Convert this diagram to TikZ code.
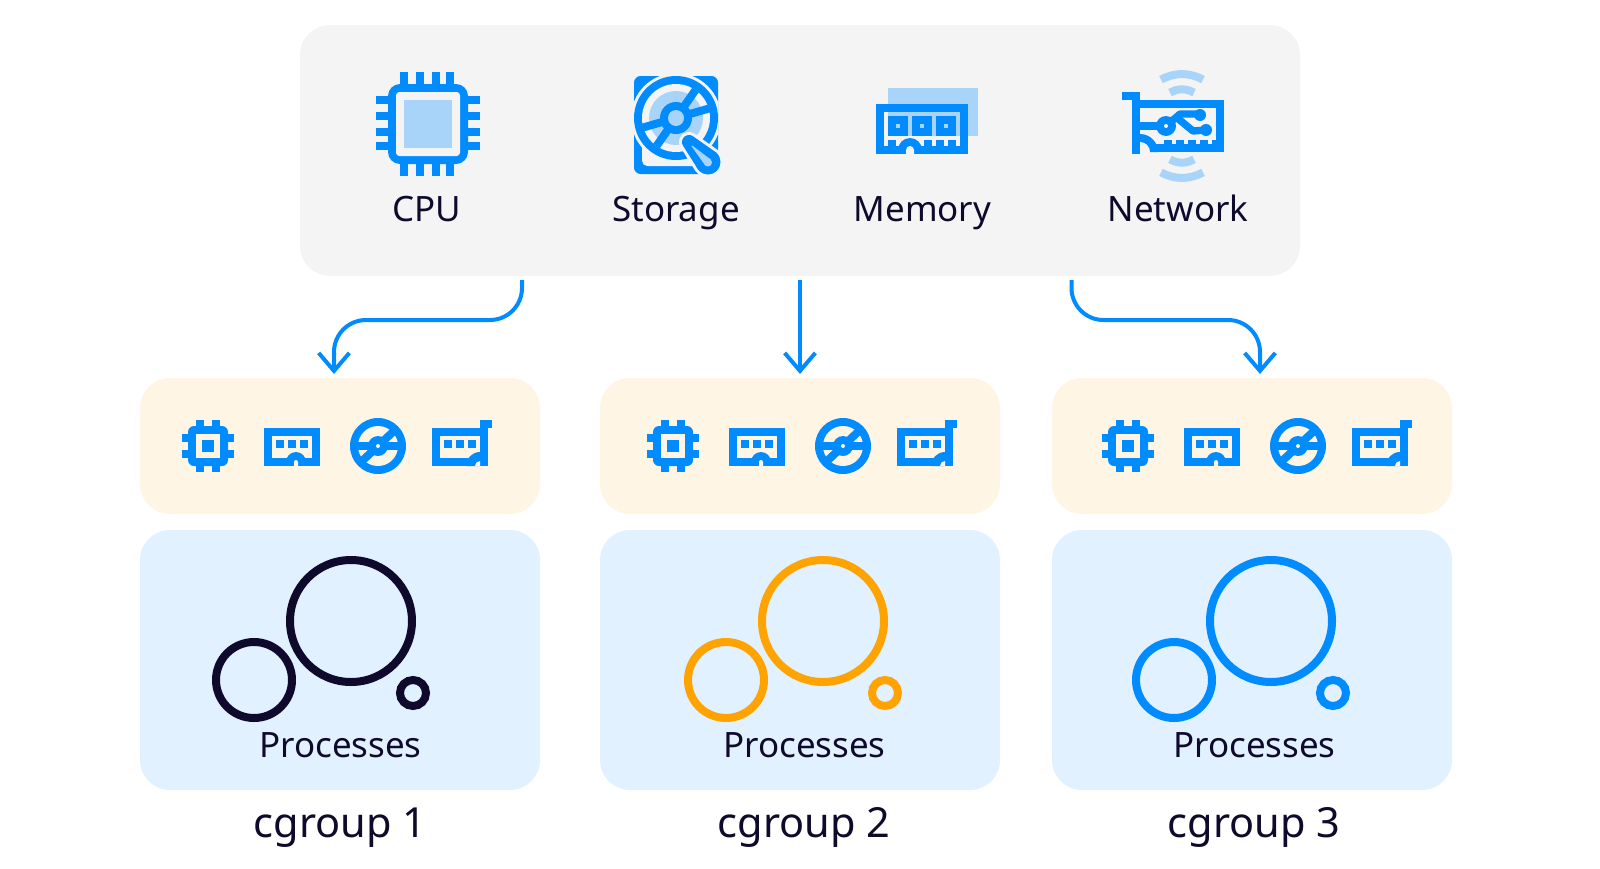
\documentclass[tikz,border=0pt]{standalone}
\usepackage{fontspec}
\setmainfont{Noto Sans}
\usetikzlibrary{arrows.meta}
\definecolor{ib}{HTML}{008CFF}
\definecolor{il}{HTML}{A9D4F9}
\definecolor{gp}{HTML}{F4F4F4}
\definecolor{cp}{HTML}{FFF5E4}
\definecolor{bp}{HTML}{E1F1FF}
\definecolor{dk}{HTML}{0F0A2C}
\definecolor{og}{HTML}{FFA300}
\tikzset{
  panel/.style={rectangle,rounded corners=22.5pt,inner sep=0pt,draw=none},
  toppanel/.style={panel,fill=gp,minimum width=750pt,minimum height=188pt},
  respanel/.style={panel,fill=cp,minimum width=300pt,minimum height=102pt},
  procpanel/.style={panel,fill=bp,minimum width=300pt,minimum height=195pt},
  toplabel/.style={anchor=base,inner sep=0pt,text=dk,font=\fontsize{26.2pt}{30pt}\selectfont},
  grouplabel/.style={anchor=base,inner sep=0pt,text=dk,font=\fontsize{31.1pt}{36pt}\selectfont},
  ring/.style={line width=6pt,fill=none},
  flow/.style={draw=ib,line width=3pt,rounded corners=24pt,-{Straight Barb[length=13.5pt,width=23pt,line width=3pt]}},
  wave/.style={draw=il,line width=6pt,line cap=butt}
}
\newcommand{\smallicons}[1]{%
\begin{scope}[shift={(#1,0)}]
  % cpu
  \foreach \px in {196,212}{\fill[ib] (\px,420) rectangle ++(8,52);}
  \foreach \py in {434,450}{\fill[ib] (182,\py) rectangle ++(52,8);}
  \fill[ib,rounded corners=4.5pt] (188,426) rectangle (228,466);
  \fill[cp] (196,434) rectangle (220,458);
  \fill[ib] (202,440) rectangle (214,452);
  % memory
  \fill[ib] (264,428) rectangle (320,466);
  \fill[cp] (272,436) rectangle (312,458);
  \foreach \px in {276,288,300}{\fill[ib] (\px,440) rectangle ++(8,8);}
  \fill[ib] (286,462) arc[start angle=180,end angle=360,radius=10] -- cycle;
  \fill[cp] (294,466) -- (294,462) arc[start angle=180,end angle=360,radius=2] -- (298,466) -- cycle;
  % disc
  \fill[ib] (378,446) circle (28);
  \fill[cp] (378,446) circle (20);
  \draw[ib,line width=6pt] (354,446) -- (402,446);
  \draw[ib,line width=6pt] (360.5,462.5) -- (395.5,429.5);
  \fill[ib] (378,446) circle (10);
  \fill[cp] (378,446) circle (2);
  % network
  \fill[ib] (432,428) rectangle (488,466);
  \fill[ib] (480,420) rectangle (492,428);
  \fill[cp] (440,436) rectangle (480,458);
  \foreach \px in {444,456,468}{\fill[ib] (\px,440) rectangle ++(8,8);}
  \fill[ib] (480,466) -- (466,466) arc[start angle=180,end angle=270,radius=14] -- cycle;
  \fill[cp] (480,466) -- (475,466) arc[start angle=180,end angle=270,radius=5] -- cycle;
\end{scope}}
\begin{document}
\begin{tikzpicture}[x=.75pt,y=-.75pt]
\useasboundingbox (0,0) rectangle (1600,868);
\fill[white] (0,0) rectangle (1600,868);

% panels
\node[toppanel] (top) at (800,150.5) {};
\node[respanel] (res1) at (340,446) {};
\node[respanel] (res2) at (800,446) {};
\node[respanel] (res3) at (1252,446) {};
\node[procpanel] (proc1) at (340,660) {};
\node[procpanel] (proc2) at (800,660) {};
\node[procpanel] (proc3) at (1252,660) {};

% big CPU
\foreach \px in {400,416,432,446}{\fill[ib] (\px,72) rectangle ++(8,104);}
\foreach \py in {96,112,128,142}{\fill[ib] (376,\py) rectangle ++(104,8);}
\fill[ib,rounded corners=9pt] (388,84) rectangle (468,164);
\fill[gp,rounded corners=2.5pt] (396,92) rectangle (460,156);
\fill[il] (404,100) rectangle (452,148);

% big storage
\fill[ib,rounded corners=5pt] (634,76) rectangle (718,174);
\fill[gp,rounded corners=4pt] (642,110) rectangle (710,166);
\begin{scope}
  \clip (634,76) rectangle (718,174);
  \fill[gp] (676,118) circle (45);
\end{scope}
\fill[ib] (676,118) circle (42);
\fill[gp] (676,118) circle (34);
\fill[il] (676,118) circle (27);
\draw[ib,line width=6pt] (643,127.5) -- (709,108.5);
\draw[ib,line width=6pt] (656.5,146) -- (695.5,90);
\fill[ib] (676,118) circle (16);
\fill[il] (676,118) circle (8);
\draw[gp,line width=15pt,line join=round,fill=gp] (689,142) -- (712,158.2) -- (704,165.8) -- cycle;
\fill[gp] (708,162) circle (15);
\draw[ib,line width=10.5pt,line join=round,fill=ib] (689,142) -- (712,158.2) -- (704,165.8) -- cycle;
\fill[ib] (708,162) circle (12.5);
\draw[il,line width=.75pt,line join=round,fill=il] (692,146) -- (710.5,160) -- (705.5,165) -- cycle;
\fill[il] (708,162.5) circle (4);

% big memory
\fill[il] (888,88) rectangle (978,136);
\fill[ib] (876,104) rectangle (968,154);
\fill[gp] (884,112) rectangle (960,146);
\fill[il] (888,112) rectangle (960,136);
\foreach \px in {888,912,936}{
  \fill[ib] (\px,116) rectangle ++(20,20);
  \fill[il] (\px+8,124) rectangle ++(4,4);
}
\foreach \px in {888,924,936,948}{\fill[ib] (\px,140) rectangle ++(8,6);}
\fill[ib] (898,150) arc[start angle=180,end angle=360,radius=12] -- cycle;
\fill[gp] (906,154) -- (906,150) arc[start angle=180,end angle=360,radius=4] -- (914,154) -- cycle;

% big network
\draw[wave] (1161,79.6) .. controls (1175,72.2) and (1189,72.2) .. (1203,79.6);
\draw[wave] (1170,92.7) .. controls (1178,88.2) and (1186,88.2) .. (1194,92.7);
\draw[wave] (1161,172.4) .. controls (1175,179.8) and (1189,179.8) .. (1203,172.4);
\draw[wave] (1170,159.3) .. controls (1178,163.8) and (1186,163.8) .. (1194,159.3);
\fill[ib] (1122,92) rectangle (1140,100);
\fill[ib] (1132,92) rectangle (1140,154);
\fill[ib] (1132,100) rectangle (1224,152);
\fill[gp] (1140,108) rectangle (1216,140);
\foreach \px in {1160,1172,1184,1196,1208}{\fill[gp] (\px,140) rectangle ++(4,4);}
\fill[gp] (1140,140) rectangle (1160,144);
\fill[ib] (1140,152) -- (1158,152) arc[start angle=0,end angle=-90,radius=18] -- cycle;
\fill[gp] (1140,152) -- (1150,152) arc[start angle=0,end angle=-90,radius=10] -- cycle;
\fill[gp] (1140,152) rectangle (1150,154);
\draw[ib,line width=6pt,line join=round] (1140,126) -- (1166,126);
\draw[ib,line width=5.5pt,line join=round] (1166,126) -- (1180,114) -- (1200,114);
\draw[ib,line width=5.5pt,line join=round] (1176,117) -- (1193,131) -- (1206,130);
\fill[ib] (1166,126) circle (10);
\fill[gp] (1166,126) circle (2);
\fill[ib] (1200,115) circle (6);
\fill[ib] (1206,130) circle (6);

% small icons
\smallicons{0}
\smallicons{465}
\smallicons{920}

% process circles
\foreach \dx/\col in {0/dk,472/og,920/ib}{
  \draw[ring,draw=\col] (351+\dx,621) circle (61);
  \draw[ring,draw=\col] (254+\dx,680) circle (38);
  \draw[ring,draw=\col] (413+\dx,693) circle (13);
}

% labels
\node[toplabel] (lcpu) at (427,221.2) {CPU};
\node[toplabel] (lsto) at (676,221.2) {Storage};
\node[toplabel] (lmem) at (922.5,221.2) {Memory};
\node[toplabel] (lnet) at (1178,221.2) {Network};
\node[toplabel] (lp1) at (340.5,757.2) {Processes};
\node[toplabel] (lp2) at (804.5,757.2) {Processes};
\node[toplabel] (lp3) at (1254.5,757.2) {Processes};
\node[grouplabel] (lg1) at (340,837.2) {cgroup 1};
\node[grouplabel] (lg2) at (804,837.2) {cgroup 2};
\node[grouplabel] (lg3) at (1254,837.2) {cgroup 3};

% connectors
\coordinate (s1) at (522,280); \coordinate (c1a) at (522,320); \coordinate (c1b) at (334,320); \coordinate (e1) at (334,374);
\coordinate (s2) at (800,280); \coordinate (e2) at (800,374);
\coordinate (s3) at (1071.5,280); \coordinate (c3a) at (1071.5,320); \coordinate (c3b) at (1260,320); \coordinate (e3) at (1260,374);
\draw[flow] (s1) -- (c1a) -- (c1b) -- (e1);
\draw[flow] (s2) -- (e2);
\draw[flow] (s3) -- (c3a) -- (c3b) -- (e3);
\end{tikzpicture}
\end{document}
